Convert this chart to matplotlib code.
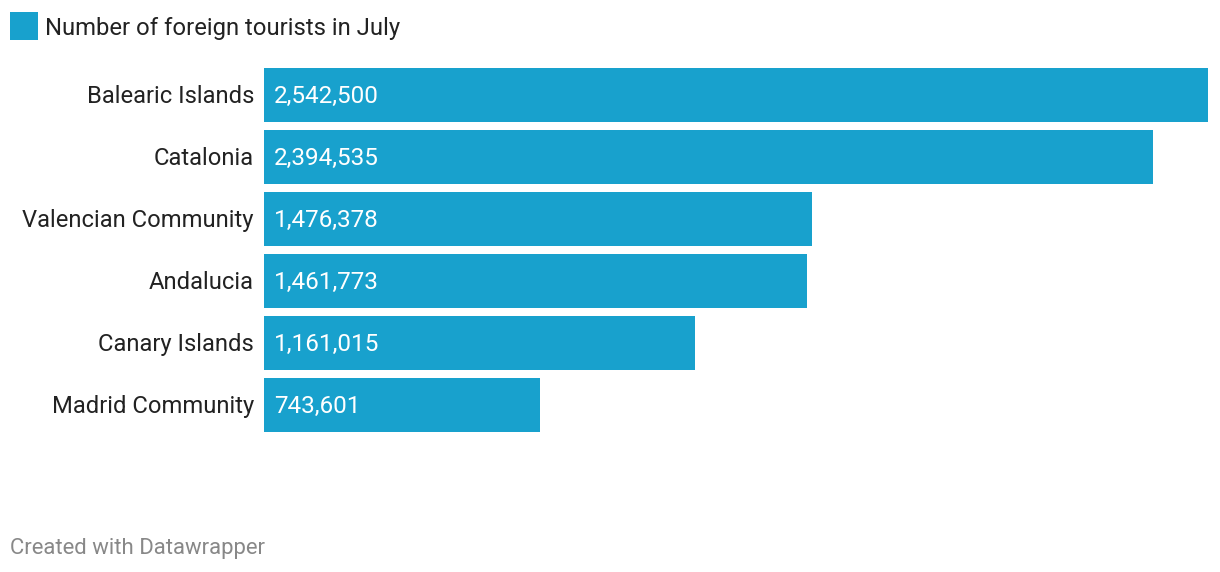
import matplotlib.pyplot as plt

plt.rcParams["font.family"] = ["Roboto", "DejaVu Sans"]

# 数据
regions = [
    "Balearic Islands",
    "Catalonia",
    "Valencian Community",
    "Andalucia",
    "Canary Islands",
    "Madrid Community",
]
tourists = [2542500, 2394535, 1476378, 1461773, 1161015, 743601]

BAR_COLOR = "#18a1cd"
TEXT_COLOR = "#222222"

W, H = 1220, 572
fig = plt.figure(figsize=(W / 100, H / 100), dpi=100)

# 绘图区域(像素 -> 比例)
left, right, top, bottom = 264, 1208, 64, 436
ax = fig.add_axes([left / W, 1 - bottom / H, (right - left) / W, (bottom - top) / H])

y = list(range(len(regions)))
ax.barh(y, tourists, height=54 / 62, color=BAR_COLOR, linewidth=0)
ax.set_xlim(0, max(tourists))
ax.set_ylim(len(regions) - 0.5, -0.5)

for yi, (name, val) in enumerate(zip(regions, tourists)):
    ax.annotate(name, xy=(0, yi), xytext=(-10, 1), textcoords="offset pixels",
                ha="right", va="center_baseline", fontsize=17.1, color=TEXT_COLOR)
    ax.annotate(f"{val:,}", xy=(0, yi), xytext=(10, 1), textcoords="offset pixels",
                ha="left", va="center_baseline", fontsize=17.5, color="white")

ax.axis("off")

# 图例
fig.patches.append(plt.Rectangle((10 / W, 1 - 40 / H), 28 / W, 28 / H,
                                 transform=fig.transFigure, color=BAR_COLOR, linewidth=0))
fig.text(45 / W, 1 - 25.5 / H, "Number of foreign tourists in July",
         ha="left", va="center_baseline", fontsize=17.2, color=TEXT_COLOR)

# 页脚
fig.text(10 / W, 1 - 546 / H, "Created with Datawrapper",
         ha="left", va="center_baseline", fontsize=15.9, color="#888888")

fig.savefig("out.png", dpi=100)
